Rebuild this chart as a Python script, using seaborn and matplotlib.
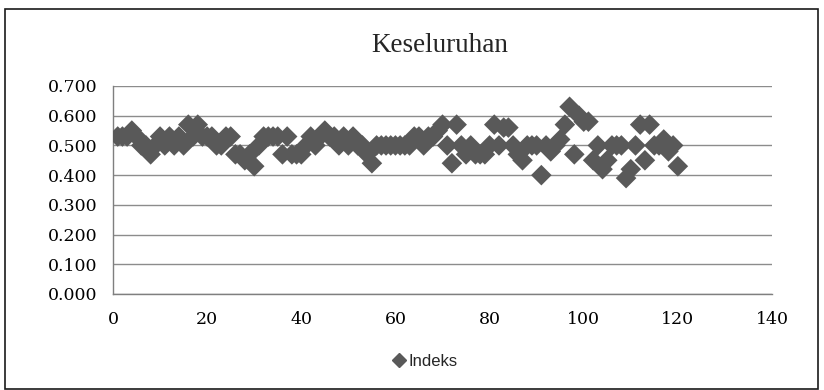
import matplotlib
matplotlib.use("Agg")
import matplotlib.pyplot as plt
import seaborn as sns
import pandas as pd
import numpy as np
from matplotlib.patches import Rectangle
from matplotlib.lines import Line2D

title = "Keseluruhan"
series_name = "Indeks"
x_values = list(range(1, 121))
indeks = [
    0.53, 0.53, 0.53, 0.55, 0.53, 0.50, 0.50, 0.47, 0.50, 0.53,
    0.50, 0.53, 0.50, 0.53, 0.50, 0.57, 0.53, 0.57, 0.53, 0.53,
    0.53, 0.50, 0.50, 0.53, 0.53, 0.47, 0.47, 0.45, 0.47, 0.43,
    0.50, 0.53, 0.53, 0.53, 0.53, 0.47, 0.53, 0.47, 0.47, 0.47,
    0.50, 0.53, 0.50, 0.53, 0.55, 0.53, 0.53, 0.50, 0.53, 0.50,
    0.53, 0.50, 0.50, 0.47, 0.44, 0.50, 0.50, 0.50, 0.50, 0.50,
    0.50, 0.50, 0.50, 0.53, 0.53, 0.50, 0.53, 0.53, 0.55, 0.57,
    0.50, 0.44, 0.57, 0.50, 0.47, 0.50, 0.47, 0.47, 0.47, 0.50,
    0.57, 0.50, 0.56, 0.56, 0.50, 0.47, 0.45, 0.50, 0.50, 0.50,
    0.40, 0.50, 0.48, 0.50, 0.52, 0.57, 0.63, 0.47, 0.60, 0.58,
    0.58, 0.45, 0.50, 0.42, 0.45, 0.50, 0.50, 0.50, 0.39, 0.42,
    0.50, 0.57, 0.45, 0.57, 0.50, 0.50, 0.52, 0.48, 0.50, 0.43,
]
x_ticks = [0, 20, 40, 60, 80, 100, 120, 140]
y_ticks = [0.0, 0.1, 0.2, 0.3, 0.4, 0.5, 0.6, 0.7]

df = pd.DataFrame({"x": x_values, "y": indeks})

sns.set_style("white")
marker_color = "#595959"

fig = plt.figure(figsize=(8.24, 3.9), dpi=100)
ax = fig.add_axes([113 / 824, 1 - 294 / 390, (772 - 113) / 824, (294 - 86) / 390])

sns.scatterplot(data=df, x="x", y="y", ax=ax, marker="D", s=110,
                color=marker_color, edgecolor="none", zorder=3, legend=False)

ax.set_xlim(0, 140)
ax.set_ylim(0, 0.7)
ax.set_xticks(x_ticks)
ax.set_yticks(y_ticks)
ax.set_xticklabels([str(v) for v in x_ticks], fontfamily="DejaVu Serif", fontsize=12.5)
ax.set_yticklabels([f"{v:.3f}" for v in y_ticks], fontfamily="DejaVu Serif", fontsize=12.5)
ax.set_xlabel("")
ax.set_ylabel("")
ax.yaxis.grid(True, color="#8c8c8c", linewidth=1.0, zorder=0)
ax.xaxis.grid(False)
for side in ["top", "right"]:
    ax.spines[side].set_visible(False)
for side in ["left", "bottom"]:
    ax.spines[side].set_color("#7f7f7f")
    ax.spines[side].set_linewidth(1.0)
ax.tick_params(axis="both", direction="out", length=4, width=1, color="#7f7f7f",
               labelcolor="#000000")
ax.tick_params(axis="y", pad=7)
ax.tick_params(axis="x", pad=8)

fig.text(440 / 824, 1 - 45 / 390, title, ha="center", va="center",
         fontfamily="Liberation Serif", fontsize=19.5)

handle = Line2D([], [], marker="D", linestyle="none", color=marker_color, markersize=7.5)
fig.legend([handle], [series_name], loc="center", bbox_to_anchor=(424 / 824, 1 - 361 / 390),
           frameon=False, prop={"family": "Liberation Sans", "size": 12},
           handletextpad=0.0, borderpad=0, handlelength=1.1)

fig.patches.append(Rectangle((5 / 824, 0.002), (818 - 5) / 824, (388 - 8) / 390,
                             transform=fig.transFigure, fill=False,
                             edgecolor="#1a1a1a", linewidth=1.2))

fig.savefig("out.png", dpi=100, facecolor="white")
